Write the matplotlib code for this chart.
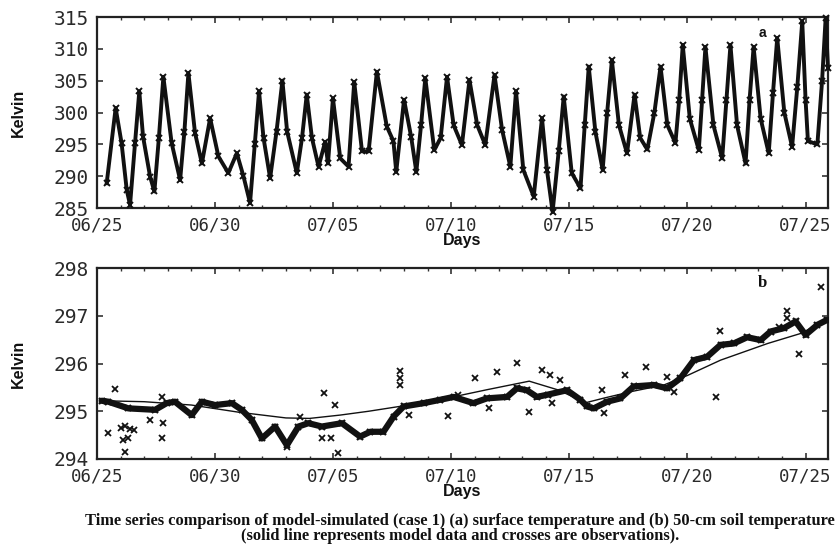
import matplotlib
matplotlib.use("Agg")
import matplotlib.pyplot as plt
from matplotlib.ticker import MultipleLocator

# ---- data -----------------------------------------------------------------
# day offset from 06/25 00:00
date_ticks = [0, 5, 10, 15, 20, 25, 30]
date_labels = ["06/25", "06/30", "07/05", "07/10", "07/15", "07/20", "07/25"]

# (a) surface temperature, K
surf_days = [0.41, 0.79, 1.04, 1.26, 1.40, 1.61, 1.79, 1.95, 2.25, 2.43,
             2.62, 2.81, 3.16, 3.52, 3.70, 3.87, 4.15, 4.44, 4.79, 5.14,
             5.56, 5.92, 6.20, 6.48, 6.68, 6.86, 7.05, 7.33, 7.60, 7.85,
             8.05, 8.46, 8.68, 8.88, 9.10, 9.38, 9.66, 9.78, 9.99, 10.30,
             10.65, 10.89, 11.22, 11.50, 11.85, 12.27, 12.55, 12.67, 13.00, 13.30,
             13.52, 13.72, 13.90, 14.28, 14.55, 14.82, 15.10, 15.45, 15.77, 16.10,
             16.44, 16.83, 17.15, 17.50, 17.74, 18.05, 18.49, 18.84, 19.05, 19.29,
             19.55, 19.76, 20.10, 20.47, 20.65, 20.82, 21.10, 21.41, 21.60, 21.80,
             22.10, 22.44, 22.76, 23.00, 23.30, 23.60, 23.86, 24.15, 24.49, 24.65,
             24.80, 25.10, 25.48, 25.62, 25.76, 26.10, 26.47, 26.65, 26.82, 27.10,
             27.46, 27.63, 27.80, 28.10, 28.44, 28.62, 28.80, 29.10, 29.43, 29.65,
             29.86, 30.00, 30.10, 30.50, 30.70, 30.85, 30.95]
surf_kelvin = [288.9, 300.7, 295.2, 287.8, 285.5, 295.2, 303.3, 296.2, 289.9, 287.6,
               296.0, 305.6, 295.2, 289.4, 297.0, 306.2, 296.8, 292.0, 299.1, 293.1,
               290.5, 293.6, 290.0, 285.8, 295.0, 303.3, 296.0, 289.7, 297.0, 305.0,
               297.0, 290.5, 296.0, 302.8, 296.0, 291.5, 295.4, 292.0, 302.2, 292.8,
               291.5, 304.8, 293.9, 293.9, 306.4, 297.8, 295.5, 290.7, 302.0, 296.2,
               290.7, 298.0, 305.4, 294.1, 296.0, 305.6, 298.0, 294.9, 305.1, 298.0,
               294.9, 305.9, 297.3, 291.5, 303.3, 291.0, 286.8, 299.1, 291.0, 284.4,
               294.0, 302.5, 290.5, 288.1, 298.0, 307.2, 297.0, 291.0, 300.0, 308.2,
               298.0, 293.6, 302.8, 296.0, 294.2, 300.0, 307.2, 298.0, 295.2, 302.0,
               310.6, 299.0, 294.1, 302.0, 310.3, 298.0, 292.8, 302.0, 310.6, 298.0,
               292.0, 302.0, 310.3, 299.0, 293.6, 303.0, 311.7, 300.0, 294.6, 304.0,
               314.3, 302.0, 295.5, 295.0, 305.0, 314.8, 307.0]

# (b) 50-cm soil temperature, K -- model
soil_model_days = [0.2, 2.0, 4.0, 6.0, 8.0, 9.0, 10.3, 11.5, 12.8, 14.5,
                   16.5, 18.3, 19.5, 20.7, 21.5, 22.7, 24.0, 25.0, 26.4, 28.4,
                   29.8, 30.9]
soil_model_kelvin = [295.22, 295.20, 295.13, 294.98, 294.86, 294.85, 294.92, 295.00,
                     295.10, 295.24, 295.45, 295.63, 295.45, 295.18, 295.28, 295.42,
                     295.55, 295.75, 296.07, 296.42, 296.63, 296.91]

# (b) observations -- continuous record
soil_obs_days = [0.2, 0.48, 1.33, 2.46, 2.95, 3.30, 4.01, 4.44, 5.00, 5.71,
                 6.13, 6.55, 6.98, 7.54, 8.04, 8.53, 8.95, 9.52, 10.37, 11.14,
                 11.57, 12.13, 12.56, 12.98, 13.83, 14.53, 15.10, 15.94, 16.51, 17.36,
                 17.78, 18.20, 18.63, 19.10, 19.90, 20.47, 20.75, 21.03, 21.60, 22.16,
                 22.72, 23.57, 24.14, 24.70, 25.27, 25.83, 26.40, 26.96, 27.53, 28.10,
                 28.52, 29.08, 29.58, 30.00, 30.50, 30.90]
soil_obs_kelvin = [295.22, 295.20, 295.06, 295.03, 295.17, 295.20, 294.92, 295.20, 295.13, 295.17,
                   295.03, 294.82, 294.43, 294.68, 294.29, 294.68, 294.75, 294.68, 294.75, 294.47,
                   294.57, 294.57, 294.89, 295.10, 295.17, 295.24, 295.30, 295.17, 295.27, 295.30,
                   295.48, 295.44, 295.30, 295.35, 295.44, 295.24, 295.10, 295.06, 295.20, 295.27,
                   295.52, 295.55, 295.48, 295.69, 296.07, 296.14, 296.39, 296.42, 296.55, 296.49,
                   296.67, 296.74, 296.88, 296.60, 296.81, 296.91]

# (b) observations -- isolated readings
soil_pts_days = [0.45, 0.76, 1.00, 1.11, 1.19, 1.20, 1.30, 1.40, 1.55, 2.25,
                 2.74, 2.74, 2.81, 8.04, 8.60, 9.52, 9.59, 9.92, 10.06, 10.20,
                 12.84, 12.84, 12.84, 13.20, 14.86, 15.30, 16.00, 16.58, 16.94, 17.78,
                 18.27, 18.84, 19.20, 19.27, 19.62, 21.40, 21.46, 22.37, 23.26, 24.14,
                 24.42, 26.19, 26.37, 28.87, 29.22, 29.22, 29.72, 30.67]
soil_pts_kelvin = [294.54, 295.46, 294.65, 294.40, 294.15, 294.70, 294.45, 294.62, 294.60, 294.82,
                   295.30, 294.43, 294.75, 294.26, 294.89, 294.43, 295.38, 294.43, 295.13, 294.12,
                   295.85, 295.70, 295.55, 294.92, 294.91, 295.34, 295.69, 295.06, 295.83, 296.02,
                   294.99, 295.86, 295.76, 295.17, 295.65, 295.44, 294.96, 295.76, 295.93, 295.72,
                   295.41, 295.30, 296.68, 296.77, 297.09, 296.95, 296.20, 297.61]

# ---- figure ---------------------------------------------------------------
W, H = 837, 549
fig = plt.figure(figsize=(W / 100, H / 100), dpi=100)

def frac_axes(left, top, right, bottom):
    return fig.add_axes([left / W, 1 - bottom / H, (right - left) / W, (bottom - top) / H])

def px_text(x, y, s, **kw):
    # place text by pixel position measured from the top-left corner
    return fig.text(x / W, 1 - y / H, s, **kw)

ax_a = frac_axes(97, 17, 828, 208)
ax_b = frac_axes(97, 268, 828, 459)

ink = "#111111"
tick_font = dict(family="DejaVu Sans Mono", size=14, color="#2a2a2a")
xtick_font = dict(family="DejaVu Sans Mono", size=12.5, color="#2a2a2a")
label_font = dict(family="Liberation Sans", weight="bold", size=11.5, color=ink)

def style(ax, ylo, yhi, ystep):
    ax.set_xlim(0, 30.95)
    for s in ax.spines.values():
        s.set_linewidth(1.6)
        s.set_color("#222222")
    ax.set_xticks(date_ticks)
    ax.set_xticklabels(date_labels, fontdict=xtick_font)
    ax.xaxis.set_minor_locator(MultipleLocator(1))
    yt = [ylo + i * ystep for i in range(int(round((yhi - ylo) / ystep)) + 1)]
    ax.set_yticks(yt)
    ax.set_yticklabels([f"{v:g}" for v in yt], fontdict=tick_font)
    ax.set_ylim(ylo, yhi)
    ax.tick_params(axis="both", which="both", direction="in", top=True, right=True,
                   color="#333333")
    ax.tick_params(axis="x", which="major", length=4, width=1.2, pad=6)
    ax.tick_params(axis="x", which="minor", length=2.5, width=1.0)
    ax.tick_params(axis="y", which="major", length=4, width=1.2, pad=6)
    ax.set_xlabel("Days", fontdict=label_font, labelpad=-1)
    ax.set_ylabel("Kelvin", fontdict=label_font, labelpad=20)

# (a) surface temperature
ax_a.plot(surf_days, surf_kelvin, color=ink, lw=2.8, clip_on=False, zorder=3)
ax_a.plot(surf_days, surf_kelvin, ls="none", marker="x", ms=5, mew=1.4,
          color=ink, clip_on=False, zorder=4)
style(ax_a, 285, 315, 5)
px_text(762, 33, "a", fontsize=10, fontweight="bold", family="Liberation Sans",
        ha="center", va="center", color=ink)

# (b) soil temperature at 50 cm
ax_b.plot(soil_obs_days, soil_obs_kelvin, color=ink, lw=4.5, solid_capstyle="round",
          zorder=3)
ax_b.plot(soil_obs_days, soil_obs_kelvin, ls="none", marker="x", ms=5, mew=1.6,
          color=ink, zorder=4)
ax_b.plot(soil_pts_days, soil_pts_kelvin, ls="none", marker="x", ms=4, mew=1.3,
          color=ink, zorder=4)
ax_b.plot(soil_model_days, soil_model_kelvin, color=ink, lw=1.0, zorder=5)
style(ax_b, 294, 298, 1)
px_text(762, 283, "b", fontsize=12, fontweight="bold", family="Liberation Serif",
        ha="center", va="center", color=ink)

# caption
px_text(460, 521, "Time series comparison of model-simulated (case 1) (a) surface temperature and (b) 50-cm soil temperature",
        ha="center", va="center", fontsize=11.8, fontweight="bold",
        family="Liberation Serif", color=ink)
px_text(460, 536, "(solid line represents model data and crosses are observations).",
        ha="center", va="center", fontsize=11.8, fontweight="bold",
        family="Liberation Serif", color=ink)

fig.savefig("out.png", dpi=100)
